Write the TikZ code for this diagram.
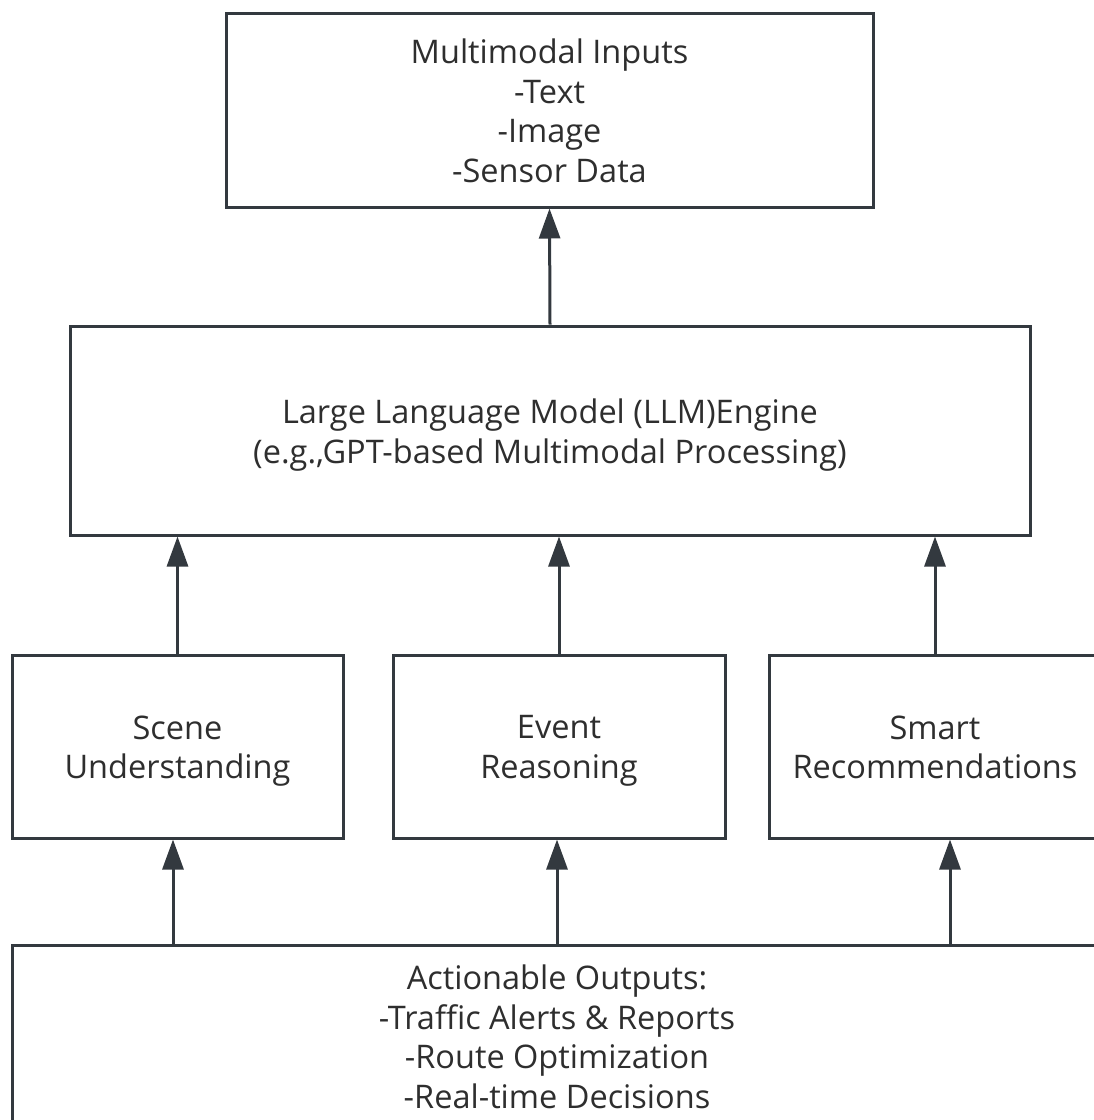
\documentclass[tikz,border=0pt]{standalone}
\usepackage{fontspec}
\setmainfont{Open Sans}
\usetikzlibrary{arrows.meta}
\definecolor{linegray}{HTML}{33393F}
\definecolor{textgray}{HTML}{2E2E2E}
\tikzset{
	blockbox/.style={draw=linegray, line width=3pt, fill=white, inner sep=0pt},
	boxtext/.style={align=center, text=textgray, inner sep=0pt,
		font=\fontsize{32.5}{39.5}\selectfont,
		execute at begin node=\strut, execute at end node=\strut},
	uparrow/.style={draw=linegray, line width=3pt,
		-{Triangle[length=30pt,width=21pt]}},
}
\begin{document}
\begin{tikzpicture}[x=1pt,y=-1pt]

	%%Frame
	\useasboundingbox (0,0) rectangle (1094,1120);
	
	%%Boxes
	\node[blockbox, minimum width=647pt, minimum height=194pt] (inputs) at (549.5,110) {};
	\node[blockbox, minimum width=960pt, minimum height=209pt] (llm) at (550,430.5) {};
	\node[blockbox, minimum width=331pt, minimum height=183pt] (scene) at (177.5,746.5) {};
	\node[blockbox, minimum width=332pt, minimum height=183pt] (event) at (559,746.5) {};
	\node[blockbox, minimum width=332pt, minimum height=183pt] (smart) at (935,746.5) {};
	\node[blockbox, minimum width=1090pt, minimum height=182pt] (outputs) at (557,1036) {};
	
	%%Texts
	\node[boxtext] (inputs-txt) at ([yshift=-6.5pt]inputs.center)
		{Multimodal Inputs\\-Text\\-Image\\-Sensor Data};
	\node[boxtext] (llm-txt) at ([yshift=-6.5pt]llm.center)
		{Large Language Model (LLM)Engine\\(e.g.,GPT-based Multimodal Processing)};
	\node[boxtext] (scene-txt) at ([yshift=-6.5pt]scene.center) {Scene\\Understanding};
	\node[boxtext] (event-txt) at ([yshift=-6.5pt]event.center) {Event\\Reasoning};
	\node[boxtext] (smart-txt) at ([yshift=-6.5pt]smart.center) {Smart\\Recommendations};
	\node[boxtext] (outputs-txt) at ([yshift=-6.5pt]outputs.center)
		{Actionable Outputs:\\-Traffic Alerts \& Reports\\-Route Optimization\\-Real-time Decisions};
	
	%%Arrows
	\draw[uparrow] (llm.north) -- (inputs.south);
	\draw[uparrow] (scene.north) -- (scene.north |- llm.south);
	\draw[uparrow] (event.north) -- (event.north |- llm.south);
	\draw[uparrow] (smart.north) -- (smart.north |- llm.south);
	\draw[uparrow] ([xshift=-4.5pt]scene.south |- outputs.north) -- ([xshift=-4.5pt]scene.south);
	\draw[uparrow] ([xshift=-2pt]event.south |- outputs.north) -- ([xshift=-2pt]event.south);
	\draw[uparrow] ([xshift=15pt]smart.south |- outputs.north) -- ([xshift=15pt]smart.south);
	
\end{tikzpicture}
\end{document}
